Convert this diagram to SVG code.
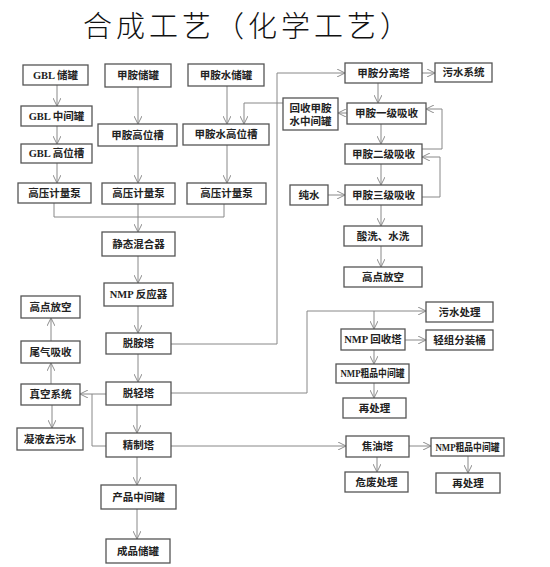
<svg xmlns="http://www.w3.org/2000/svg" width="550" height="567" viewBox="0 0 550 567">
<style>
.b{fill:#fff;stroke:#555;stroke-width:1.3}
.t{font-family:"Liberation Serif","Noto Sans CJK SC",serif;font-size:10.5px;font-weight:bold;fill:#222;text-anchor:middle;dominant-baseline:central}
.c{fill:none;stroke:#888;stroke-width:1}
.title{font-family:"Noto Sans CJK SC",sans-serif;font-size:29px;font-weight:300;fill:#111;letter-spacing:4px}
</style>
<defs>
<marker id="a" viewBox="0 0 10 10" refX="10" refY="5" markerWidth="8" markerHeight="8" markerUnits="userSpaceOnUse" orient="auto">
<path d="M0,0 L10,5 L0,10" fill="none" stroke="#888" stroke-width="1.2"/>
</marker>
</defs>
<rect width="550" height="567" fill="#fff"/>
<text class="title" x="83" y="37">合成工艺（化学工艺）</text>

<g id="connectors">
<path class="c" d="M57,85V106" marker-end="url(#a)"/>
<path class="c" d="M57,126V144" marker-end="url(#a)"/>
<path class="c" d="M57,163V183" marker-end="url(#a)"/>
<path class="c" d="M138,87V124" marker-end="url(#a)"/>
<path class="c" d="M138,146V183" marker-end="url(#a)"/>
<path class="c" d="M227,86V124" marker-end="url(#a)"/>
<path class="c" d="M227,145V183" marker-end="url(#a)"/>
<path class="c" d="M54,203V217H224V204"/>
<path class="c" d="M138,204V232" marker-end="url(#a)"/>
<path class="c" d="M138,256V283" marker-end="url(#a)"/>
<path class="c" d="M138,306V333" marker-end="url(#a)"/>
<path class="c" d="M138,354V382" marker-end="url(#a)"/>
<path class="c" d="M171,344H277V73H345" marker-end="url(#a)"/>
<path class="c" d="M422,73H435" marker-end="url(#a)"/>
<path class="c" d="M378,83V103" marker-end="url(#a)"/>
<path class="c" d="M347,113H338" marker-end="url(#a)"/>
<path class="c" d="M283,103H244V124" marker-end="url(#a)"/>
<path class="c" d="M381,124V144" marker-end="url(#a)"/>
<path class="c" d="M422,149H442V109H426" marker-end="url(#a)"/>
<path class="c" d="M381,164V185" marker-end="url(#a)"/>
<path class="c" d="M422,197H440V157H422" marker-end="url(#a)"/>
<path class="c" d="M328,195H345" marker-end="url(#a)"/>
<path class="c" d="M381,205V226" marker-end="url(#a)"/>
<path class="c" d="M381,246V267" marker-end="url(#a)"/>
<path class="c" d="M106,394H80" marker-end="url(#a)"/>
<path class="c" d="M92,394V446H106"/>
<path class="c" d="M51,384V363" marker-end="url(#a)"/>
<path class="c" d="M51,341V318" marker-end="url(#a)"/>
<path class="c" d="M52,405V428" marker-end="url(#a)"/>
<path class="c" d="M137,405V433" marker-end="url(#a)"/>
<path class="c" d="M171,393H307V311H426" marker-end="url(#a)"/>
<path class="c" d="M374,311V329" marker-end="url(#a)"/>
<path class="c" d="M405,340H426" marker-end="url(#a)"/>
<path class="c" d="M374,350V364" marker-end="url(#a)"/>
<path class="c" d="M374,383V398" marker-end="url(#a)"/>
<path class="c" d="M171,446H346" marker-end="url(#a)"/>
<path class="c" d="M409,446H431" marker-end="url(#a)"/>
<path class="c" d="M377,457V472" marker-end="url(#a)"/>
<path class="c" d="M468,456V473" marker-end="url(#a)"/>
<path class="c" d="M137,457V485" marker-end="url(#a)"/>
<path class="c" d="M137,509V539" marker-end="url(#a)"/>
</g>

<g id="gbl-tank"><rect class="b" x="23" y="65" width="65" height="20"/><text class="t" x="55.5" y="75">GBL 储罐</text></g>
<g id="gbl-mid"><rect class="b" x="21" y="106" width="71" height="20"/><text class="t" x="56.5" y="116">GBL 中间罐</text></g>
<g id="gbl-high"><rect class="b" x="21" y="144" width="71" height="19"/><text class="t" x="56.5" y="153.5">GBL 高位槽</text></g>
<g id="pump1"><rect class="b" x="18" y="183" width="73" height="20"/><text class="t" x="54.5" y="193">高压计量泵</text></g>
<g id="ma-tank"><rect class="b" x="105" y="64" width="66" height="23"/><text class="t" x="138" y="75.5">甲胺储罐</text></g>
<g id="ma-high"><rect class="b" x="98" y="124" width="79" height="22"/><text class="t" x="137.5" y="135">甲胺高位槽</text></g>
<g id="pump2"><rect class="b" x="102" y="183" width="73" height="21"/><text class="t" x="138.5" y="193.5">高压计量泵</text></g>
<g id="maw-tank"><rect class="b" x="188" y="64" width="76" height="22"/><text class="t" x="226" y="75">甲胺水储罐</text></g>
<g id="maw-high"><rect class="b" x="183" y="124" width="86" height="21"/><text class="t" x="226" y="134.5">甲胺水高位槽</text></g>
<g id="pump3"><rect class="b" x="187" y="183" width="79" height="21"/><text class="t" x="226.5" y="193.5">高压计量泵</text></g>
<g id="mixer"><rect class="b" x="102" y="232" width="73" height="24"/><text class="t" x="138.5" y="244">静态混合器</text></g>
<g id="reactor"><rect class="b" x="104" y="283" width="69" height="23"/><text class="t" x="138.5" y="294.5">NMP 反应器</text></g>
<g id="deamine"><rect class="b" x="106" y="333" width="65" height="21"/><text class="t" x="138.5" y="343.5">脱胺塔</text></g>
<g id="delight"><rect class="b" x="106" y="382" width="65" height="23"/><text class="t" x="138.5" y="393.5">脱轻塔</text></g>
<g id="refine"><rect class="b" x="106" y="433" width="65" height="24"/><text class="t" x="138.5" y="445">精制塔</text></g>
<g id="product-mid"><rect class="b" x="101" y="485" width="75" height="24"/><text class="t" x="138.5" y="497">产品中间罐</text></g>
<g id="product-store"><rect class="b" x="106" y="539" width="64" height="24"/><text class="t" x="138" y="551">成品储罐</text></g>
<g id="vent-left"><rect class="b" x="21" y="296" width="59" height="22"/><text class="t" x="50.5" y="307">高点放空</text></g>
<g id="tailgas"><rect class="b" x="21" y="341" width="59" height="22"/><text class="t" x="50.5" y="352">尾气吸收</text></g>
<g id="vacuum"><rect class="b" x="21" y="384" width="59" height="21"/><text class="t" x="50.5" y="394.5">真空系统</text></g>
<g id="condensate"><rect class="b" x="17" y="428" width="66" height="22"/><text class="t" x="50" y="439">凝液去污水</text></g>
<g id="ma-sep"><rect class="b" x="345" y="63" width="77" height="20"/><text class="t" x="383.5" y="73">甲胺分离塔</text></g>
<g id="sewage-sys"><rect class="b" x="435" y="63" width="57" height="19"/><text class="t" x="463.5" y="72.5">污水系统</text></g>
<g id="recover-tank"><rect class="b" x="283" y="98" width="55" height="32"/><text class="t" x="310.5" y="108">回收甲胺</text><text class="t" x="310.5" y="121">水中间罐</text></g>
<g id="abs1"><rect class="b" x="347" y="103" width="79" height="21"/><text class="t" x="386.5" y="113.5">甲胺一级吸收</text></g>
<g id="abs2"><rect class="b" x="345" y="144" width="77" height="20"/><text class="t" x="383.5" y="154">甲胺二级吸收</text></g>
<g id="pure-water"><rect class="b" x="290" y="185" width="38" height="20"/><text class="t" x="309" y="195">纯水</text></g>
<g id="abs3"><rect class="b" x="345" y="185" width="77" height="20"/><text class="t" x="383.5" y="195">甲胺三级吸收</text></g>
<g id="wash"><rect class="b" x="344" y="226" width="78" height="20"/><text class="t" x="383" y="236">酸洗、水洗</text></g>
<g id="vent-right"><rect class="b" x="344" y="267" width="78" height="20"/><text class="t" x="383" y="277">高点放空</text></g>
<g id="sewage-treat"><rect class="b" x="426" y="302" width="67" height="20"/><text class="t" x="459.5" y="312">污水处理</text></g>
<g id="nmp-recover"><rect class="b" x="341" y="329" width="64" height="21"/><text class="t" x="373" y="339.5">NMP 回收塔</text></g>
<g id="light-barrel"><rect class="b" x="426" y="330" width="67" height="20"/><text class="t" x="459.5" y="340">轻组分装桶</text></g>
<g id="nmp-crude1"><rect class="b" x="336" y="364" width="73" height="19"/><text class="t" x="372.5" y="373.5" textLength="64" lengthAdjust="spacingAndGlyphs">NMP粗品中间罐</text></g>
<g id="retreat1"><rect class="b" x="343" y="398" width="63" height="20"/><text class="t" x="374.5" y="408">再处理</text></g>
<g id="tar"><rect class="b" x="346" y="436" width="63" height="21"/><text class="t" x="377.5" y="446.5">焦油塔</text></g>
<g id="nmp-crude2"><rect class="b" x="431" y="438" width="73" height="18"/><text class="t" x="467.5" y="447" textLength="64" lengthAdjust="spacingAndGlyphs">NMP粗品中间罐</text></g>
<g id="hazwaste"><rect class="b" x="345" y="472" width="63" height="20"/><text class="t" x="376.5" y="482">危废处理</text></g>
<g id="retreat2"><rect class="b" x="436" y="473" width="64" height="20"/><text class="t" x="468" y="483">再处理</text></g>
</svg>
